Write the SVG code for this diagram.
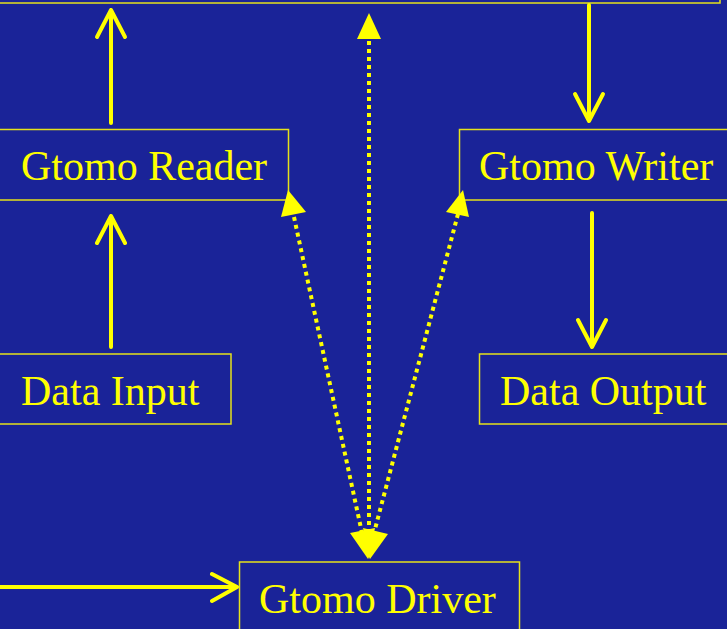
<svg xmlns="http://www.w3.org/2000/svg" width="727" height="629" viewBox="0 0 727 629">
  <style>
    .box { fill: none; stroke: #e6e21a; stroke-width: 1.5; }
    .label { fill: #ffff00; font-family: "Liberation Serif", "Times New Roman", serif; font-size: 42px; }
    .solid { fill: none; stroke: #ffff00; stroke-width: 4; stroke-linecap: round; stroke-linejoin: round; }
    .dotted { fill: none; stroke: #ffff00; stroke-width: 4; stroke-dasharray: 4 4; }
    .head { fill: #ffff00; stroke: none; }
  </style>
  <rect x="0" y="0" width="727" height="629" fill="#1a2398"/>

  <g id="top-box">
    <rect class="box" x="-4" y="-60" width="724" height="63"/>
  </g>

  <g id="gtomo-reader">
    <rect class="box" x="-4" y="129.5" width="292.5" height="70.5"/>
    <text class="label" x="21" y="180">Gtomo Reader</text>
  </g>

  <g id="gtomo-writer">
    <rect class="box" x="459.5" y="129.5" width="272" height="70.5"/>
    <text class="label" x="479" y="180">Gtomo Writer</text>
  </g>

  <g id="data-input">
    <rect class="box" x="-4" y="354" width="235" height="70"/>
    <text class="label" x="21" y="405">Data Input</text>
  </g>

  <g id="data-output">
    <rect class="box" x="479.5" y="354" width="252" height="70"/>
    <text class="label" x="500" y="405">Data Output</text>
  </g>

  <g id="gtomo-driver">
    <rect class="box" x="239.5" y="562" width="280" height="80"/>
    <text class="label" x="259" y="613">Gtomo Driver</text>
  </g>

  <g id="connectors">
    <!-- Reader up to top box -->
    <path class="solid" d="M111 123 V10 M97 37 L111 10 L125 37"/>
    <!-- Data Input up to Reader -->
    <path class="solid" d="M111 347 V216 M97 243 L111 216 L125 243"/>
    <!-- top box down to Writer -->
    <path class="solid" d="M589 5 V121 M575 94 L589 121 L603 94"/>
    <!-- Writer down to Data Output -->
    <path class="solid" d="M592 213 V347 M578 320 L592 347 L606 320"/>
    <!-- incoming line to Driver -->
    <path class="solid" d="M-2 587 H237 M212 574 L237 587 L212 601"/>

    <!-- dotted two-way links to Driver -->
    <path class="dotted" d="M369 41 V534"/>
    <path class="dotted" d="M294 217 L362 533"/>
    <path class="dotted" d="M458 214 L374 533"/>

    <!-- arrowheads at the far ends -->
    <polygon class="head" points="369,13 381,39 357,39"/>
    <polygon class="head" points="288,190 306,212 281,217"/>
    <polygon class="head" points="463,190 469,217 446,212"/>
    <!-- arrowheads at the Driver end -->
    <polygon class="head" points="369,559 357,533 381,533"/>
    <polygon class="head" points="368,559 350,533 375,528"/>
    <polygon class="head" points="370,559 363,528 388,534"/>
  </g>
</svg>
